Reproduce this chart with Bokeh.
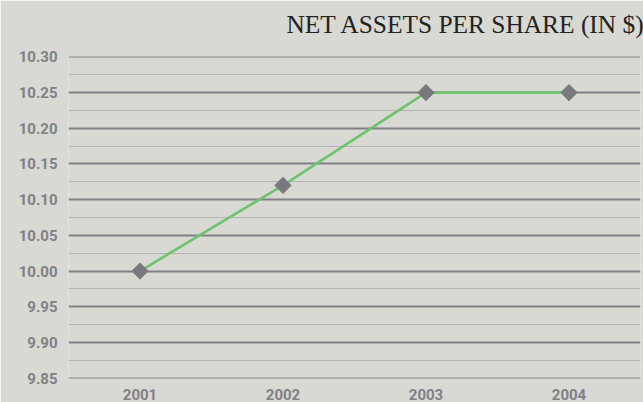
from bokeh.plotting import figure
from bokeh.models import FixedTicker, Range1d, Title
from bokeh.embed import file_html
from bokeh.resources import INLINE
import math

# Data
years = [2001, 2002, 2003, 2004]
year_labels = ["2001", "2002", "2003", "2004"]
nav = [10.00, 10.12, 10.25, 10.25]
y_ticks = [9.85, 9.90, 9.95, 10.00, 10.05, 10.10, 10.15, 10.20, 10.25, 10.30]
y_tick_labels = ["9.85", "9.90", "9.95", "10.00", "10.05", "10.10", "10.15", "10.20", "10.25", "10.30"]
y_minor = [9.875, 9.925, 9.975, 10.025, 10.075, 10.125, 10.175, 10.225, 10.275]
title_text = "NET ASSETS PER SHARE (IN $)"

BG = "#d9d9d3"
GREY = "#808086"

p = figure(width=643, height=402, output_backend="svg", toolbar_location=None,
           x_range=Range1d(2000.5, 2004.5), y_range=Range1d(9.8494, 10.3006),
           min_border_left=68, min_border_right=3, min_border_top=56, min_border_bottom=22)
p.background_fill_color = BG
p.border_fill_color = BG
p.outline_line_color = None
p.title.text = ""

# spacer between frame and title (nearest to frame), then the visible title
spacer = Title(text=" ", text_font_size="1px", standoff=16)
p.add_layout(spacer, "above")
main_title = Title(text=title_text, align="right", text_font="Liberation Serif",
                   text_font_size="25.4px", text_font_style="normal",
                   text_color="#222222", standoff=0, offset=-5)
p.add_layout(main_title, "above")

# grids
p.xgrid.grid_line_color = None
p.ygrid.ticker = FixedTicker(ticks=y_ticks, minor_ticks=y_minor)
p.ygrid.grid_line_color = GREY
p.ygrid.grid_line_width = 1.8
p.ygrid.minor_grid_line_color = "#b3b3b7"
p.ygrid.minor_grid_line_width = 1.2

# axes
for ax in (p.xaxis[0], p.yaxis[0]):
    ax.axis_line_color = None
    ax.major_tick_line_color = None
    ax.minor_tick_line_color = None
    ax.major_label_text_font = "Roboto"
    ax.major_label_text_font_style = "bold"
    ax.major_label_text_font_size = "15px"
    ax.major_label_text_color = GREY

p.xaxis.ticker = FixedTicker(ticks=years)
p.xaxis.major_label_overrides = {y: l for y, l in zip(years, year_labels)}
p.xaxis.major_label_standoff = 4
p.yaxis.ticker = FixedTicker(ticks=y_ticks)
p.yaxis.major_label_overrides = {t: l for t, l in zip(y_ticks, y_tick_labels)}
p.yaxis.major_label_standoff = 5

p.line(years, nav, line_color="#6cc46c", line_width=2.6)
p.scatter(years, nav, marker="square", angle=math.pi / 4, size=11.5,
          fill_color="#78787d", line_color="#78787d")

html = file_html(p, INLINE)
html = html.replace("<body>", '<body style="background:%s">' % BG, 1)
open("out.html", "w").write(html)
